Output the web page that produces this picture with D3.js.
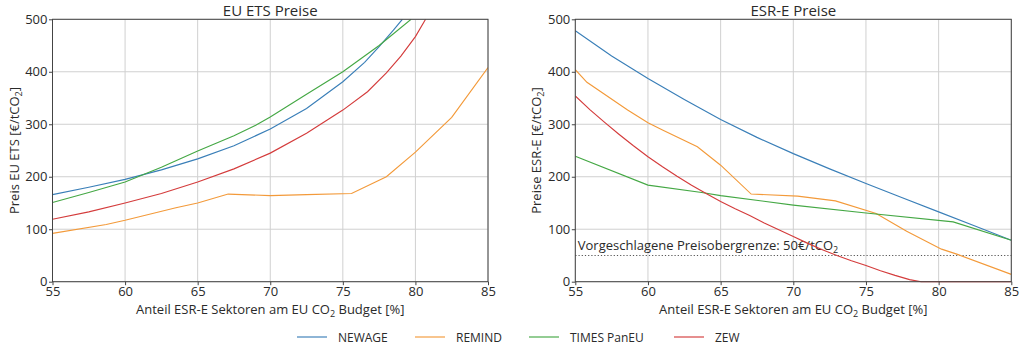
<!DOCTYPE html>
<html><head><meta charset="utf-8">
<script src="https://cdn.jsdelivr.net/npm/d3@7"></script>
<style>
body{margin:0;background:#fff;}
svg{font-family:"Open Sans",sans-serif;}
</style></head>
<body><svg id="c" width="1024" height="356"></svg>
<script>
const seriesNames = ["NEWAGE","REMIND","TIMES PanEU","ZEW"];
const colors = ["#3a7fb8","#f39a3a","#45a845","#d43c3c"];
const xTicks = [55,60,65,70,75,80,85];
const yTicks = [0,100,200,300,400,500];

// EU ETS prices [x, y]
const etsNEWAGE = [[55,166],[57.5,180],[60,195],[62.5,213],[65,234],[67.5,259],[70,291],[72.5,330],[75,381],[76.5,418],[77.5,448],[78.5,480],[79.1,500]];
const etsREMIND = [[55,92],[58.7,109],[60,117],[63.5,141],[65,150],[67.1,167],[70,164],[72.5,166],[75.6,168],[78,200],[80,247],[82.5,313],[85,408]];
const etsTIMES = [[55,151],[57.5,170],[60,190],[62.5,218],[65,249],[67.5,278],[69,298],[70,314],[72.5,357],[75,400],[77.5,450],[79.7,500]];
const etsZEW = [[55,119],[57.5,133],[60,150],[62.5,168],[65,190],[67.5,215],[70,245],[72.5,283],[75,327],[76.7,362],[78,398],[79,430],[80,467],[80.7,500]];

// ESR-E prices [x, y]
const esrNEWAGE = [[55,478],[57.5,430],[60,387],[62.5,347],[65,309],[67.5,275],[70,244],[72.5,215],[75,187],[77.5,160],[80,133],[82.5,106],[85,79]];
const esrREMIND = [[55,404],[55.8,380],[58.6,327],[60,303],[61,289],[63.4,257],[65,222],[67.1,167],[70.3,163],[72.9,154],[75.7,130],[77.8,96],[80.2,62],[81.3,52],[85,14]];
const esrTIMES = [[55,239],[60,184],[63.7,170],[65,164],[70,146],[75,131],[81,114],[85,79]];
const esrZEW = [[55,354],[56,328],[57,304],[58,281],[59,259],[60,238],[61,219],[62,201],[63,184],[64,168],[65,153],[66,139],[67,126],[68,112],[69,99],[70,86],[71,73],[72,61],[73,50],[74,40],[75,31],[76,21],[77,12],[78,4],[78.8,0],[85,0]];

const etsData = [etsNEWAGE, etsREMIND, etsTIMES, etsZEW];
const esrData = [esrNEWAGE, esrREMIND, esrTIMES, esrZEW];
const capValue = 50;

const svg = d3.select("#c");
const plotTop = 19.3, plotBottom = 281.7;
const textColor = "#2a2a2a";

function panel(left, right, title, ylabel, data, withCap){
  const x = d3.scaleLinear().domain([55,85]).range([left,right]);
  const y = d3.scaleLinear().domain([0,500]).range([plotBottom,plotTop]);
  const g = svg.append("g");
  g.append("g").selectAll("line").data(xTicks).join("line")
    .attr("x1",d=>x(d)).attr("x2",d=>x(d)).attr("y1",plotTop).attr("y2",plotBottom)
    .attr("stroke","#d0d0d0").attr("stroke-width",1);
  g.append("g").selectAll("line").data(yTicks).join("line")
    .attr("y1",d=>y(d)).attr("y2",d=>y(d)).attr("x1",left).attr("x2",right)
    .attr("stroke","#d0d0d0").attr("stroke-width",1);
  const cid = "clip"+Math.round(left);
  svg.append("clipPath").attr("id",cid).append("rect")
    .attr("x",left).attr("y",plotTop).attr("width",right-left).attr("height",plotBottom-plotTop+2);
  if(withCap){
    g.append("line").attr("x1",x(55)).attr("x2",x(85)).attr("y1",y(capValue)).attr("y2",y(capValue))
      .attr("stroke","#555").attr("stroke-width",1.1).attr("stroke-dasharray","1.2,2");
    const t = g.append("text").attr("x",x(55)+2.5).attr("y",y(capValue)-5.5)
      .attr("font-size",13).attr("fill",textColor);
    t.append("tspan").text("Vorgeschlagene Preisobergrenze: 50€/tCO");
    t.append("tspan").attr("font-size",9).attr("dy",3).text("2");
  }
  const line = d3.line().x(d=>x(d[0])).y(d=>y(d[1]));
  g.append("g").attr("clip-path",`url(#${cid})`).selectAll("path").data(data).join("path")
    .attr("d",line).attr("fill","none").attr("stroke",(d,i)=>colors[i]).attr("stroke-width",1.15);
  const xa = g.append("g").attr("transform",`translate(0,${plotBottom})`)
    .call(d3.axisBottom(x).tickValues(xTicks).tickSize(3.5).tickPadding(1.5));
  const ya = g.append("g").attr("transform",`translate(${left},0)`)
    .call(d3.axisLeft(y).tickValues(yTicks).tickSize(3.5).tickPadding(1.5));
  [xa,ya].forEach(a=>{
    a.select(".domain").remove();
    a.selectAll("line").attr("stroke","#444");
    a.selectAll("text").attr("font-size",13).attr("fill",textColor).attr("font-family","Open Sans");
  });
  g.append("rect").attr("x",left).attr("y",plotTop).attr("width",right-left).attr("height",plotBottom-plotTop)
    .attr("fill","none").attr("stroke","#444").attr("stroke-width",1);
  g.append("text").attr("x",(left+right)/2).attr("y",16).attr("text-anchor","middle")
    .attr("font-size",15).attr("fill",textColor).text(title);
  const xl = g.append("text").attr("x",(left+right)/2).attr("y",314).attr("text-anchor","middle")
    .attr("font-size",13).attr("fill",textColor);
  xl.append("tspan").text("Anteil ESR-E Sektoren am EU CO");
  xl.append("tspan").attr("font-size",9).attr("dy",3).text("2");
  xl.append("tspan").attr("dy",-3).text(" Budget [%]");
  const yl = g.append("text").attr("transform",`translate(${left-34},${(plotTop+plotBottom)/2}) rotate(-90)`)
    .attr("text-anchor","middle").attr("font-size",13).attr("fill",textColor);
  yl.append("tspan").text(ylabel+" [€/tCO");
  yl.append("tspan").attr("font-size",9).attr("dy",3).text("2");
  yl.append("tspan").attr("dy",-3).text("]");
}

panel(52.5, 488, "EU ETS Preise", "Preis EU ETS", etsData, false);
panel(575.3, 1011.3, "ESR-E Preise", "Preise ESR-E", esrData, true);

const legX = [297, 415, 529, 674];
const lg = svg.append("g").selectAll("g").data(seriesNames).join("g")
  .attr("transform",(d,i)=>`translate(${legX[i]},337)`);
lg.append("line").attr("x1",0).attr("x2",30).attr("stroke",(d,i)=>colors[i]).attr("stroke-width",1.15);
lg.append("text").attr("x",41).attr("y",4.5).attr("font-size",12).attr("fill",textColor).text(d=>d);
</script></body></html>
